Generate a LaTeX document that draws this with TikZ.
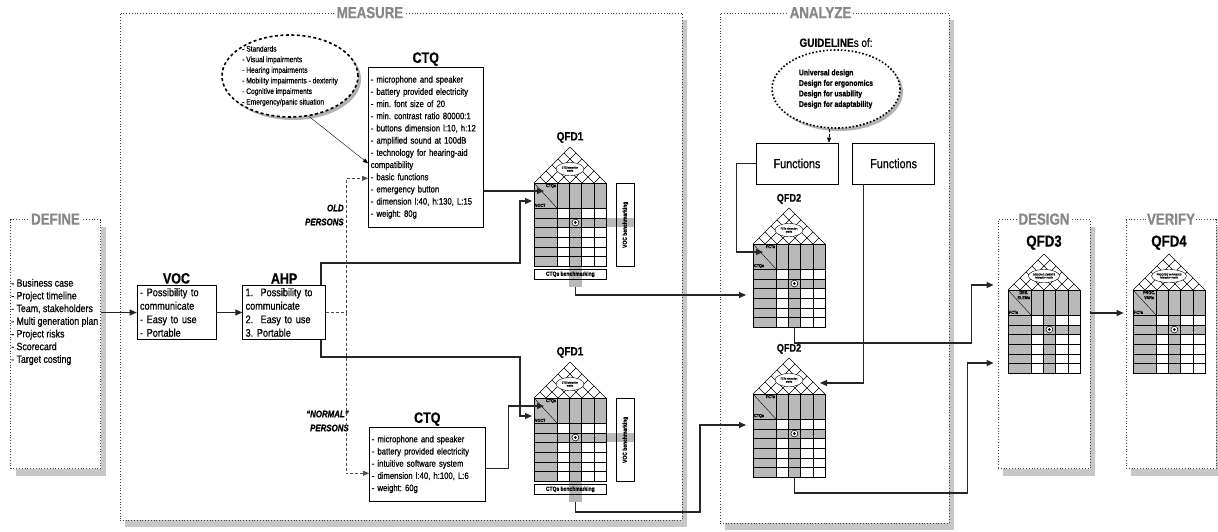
\documentclass[tikz,border=0pt]{standalone}
\usepackage{fontspec}
\setmainfont{Liberation Sans}[FakeStretch=0.83, FakeBold=0.6]
\usetikzlibrary{arrows.meta,positioning,shapes.geometric,shadows,calc}
\definecolor{clrShade}{RGB}{185,185,185}
\definecolor{clrTitle}{RGB}{135,135,135}
\frenchspacing

% house of quality: name, top-left of matrix, roof text, top label, bottom label, title
\newcommand{\qfdhouse}[6]{%
  \begin{scope}[shift={#2}]
    \fill[clrShade] (0,0) rectangle (23,83);
    \fill[clrShade] (23,0) rectangle (72,25);
    \fill[clrShade] (35.25,25) rectangle (47.5,83);
    \fill[clrShade] (23,34.7) rectangle (72,44.3);
    \foreach \cx in {35.25,47.5,59.75}
      \draw[gridln] (\cx,0) -- (\cx,83);
    \foreach \ry in {34.7,44.3,54,63.7,73.3}
      \draw[gridln] (0,\ry) -- (72,\ry);
    \draw[gridln] (0,0) -- (23,25);
    \draw[line width=0.8pt] (23,0) -- (23,83) (0,25) -- (72,25);
    \node[hdrlbl, anchor=north east] at (23,0) {#4};
    \node[hdrlbl, anchor=south west] at (0,25) {#5};
    \draw[fill=white, line width=0.5pt] (41.4,39.5) circle (3.4);
    \fill (41.4,39.5) circle (1.5);
    % roof
    \begin{scope}
      \clip (0,0) -- (36,-36) -- (72,0) -- cycle;
      \foreach \i in {1,...,5}
        \draw[gridln] (\i*12,0) -- ++(40,-40) (\i*12,0) -- ++(-40,-40);
    \end{scope}
    \draw[gridln] (0,0) -- (36,-36) -- (72,0);
    \node[roofell] (#1-roof) at (36,-14) {#3};
    \node[qfdbox, anchor=north west] (#1) at (0,0) {};
    \node[qfdtitle, anchor=south] (#1-title) at (36,-39) {#6};
    \coordinate (#1-hdr) at (10,8);
    \coordinate (#1-in) at (-2,18);
    \coordinate (#1-bot) at (41.4,83);
    \coordinate (#1-rin) at (67,-11);
  \end{scope}}

% benchmarking strips of QFD1
\newcommand{\qfdbench}[2]{%
  \begin{scope}[shift={#2}]
    \fill[clrShade] (72,34.7) rectangle (100,44.3);
    \fill[clrShade] (35.25,83) rectangle (47.5,104);
    \node[benchbox, minimum width=18pt, minimum height=83pt, anchor=north west]
      (#1-vocb) at (82,0) {\rotatebox{90}{VOC benchmarking}};
    \node[benchbox, minimum width=72pt, minimum height=10pt, anchor=north west]
      (#1-ctqb) at (0,86) {CTQs benchmarking};
    \coordinate (#1-out) at (41.4,104);
  \end{scope}}

\begin{document}
\begin{tikzpicture}[x=1pt, y=-1pt,
  phase/.style={draw=black!75, dash pattern=on 0.8pt off 2pt, line width=0.8pt,
                fill=white, inner sep=0pt,
                drop shadow={shadow xshift=5pt, shadow yshift=-7pt, fill=black!22, opacity=1}},
  phasettl/.style={font=\fontsize{16}{16}\selectfont\bfseries, text=clrTitle,
                   fill=white, inner sep=1.5pt},
  arr/.style={-{Triangle[length=7pt,width=6pt]}, line width=1.2pt, black!85},
  dasharr/.style={-{Triangle[length=6pt,width=5pt]}, densely dashed, line width=0.6pt, black!70},
  dashln/.style={densely dashed, line width=0.6pt, black!70},
  thinarr/.style={-{Triangle[length=5pt,width=4pt]}, line width=0.4pt},
  gridln/.style={line width=0.4pt},
  hdrlbl/.style={font=\fontsize{4.5}{5}\selectfont\bfseries, inner sep=0.8pt, align=center},
  roofell/.style={ellipse, draw, fill=white, line width=0.4pt, minimum width=28pt,
                  minimum height=13pt, inner sep=0pt, align=center,
                  font=\fontsize{2.8}{3}\selectfont},
  qfdbox/.style={draw, line width=0.9pt, minimum width=72pt, minimum height=83pt, inner sep=0pt},
  qfdtitle/.style={font=\fontsize{12}{12}\selectfont\bfseries, inner sep=1pt},
  benchbox/.style={draw, line width=0.6pt, inner sep=0pt, font=\fontsize{6}{6}\selectfont\bfseries},
  lbox/.style={draw, line width=0.6pt, align=left, inner sep=3pt,
               font=\fontsize{11}{13.5}\selectfont},
  ctqbox/.style={draw, line width=0.6pt, align=left, inner sep=2.5pt,
                 font=\fontsize{9.3}{12.2}\selectfont},
  ttl/.style={font=\fontsize{15}{15}\selectfont\bfseries, inner sep=1pt},
  listtxt/.style={align=left, inner sep=0pt, font=\fontsize{10.6}{12.7}\selectfont},
  ellnote/.style={ellipse, draw, fill=white, line width=1.6pt, dash pattern=on 3pt off 2.5pt,
                  align=left, inner xsep=-9pt, inner ysep=-4pt,
                  font=\fontsize{8}{10.6}\selectfont,
                  drop shadow={shadow xshift=3pt, shadow yshift=-3pt, fill=black!30, opacity=1}},
  guidenote/.style={ellipse, draw, fill=white, line width=1.6pt, dotted,
                    align=left, inner sep=0pt, font=\fontsize{8.2}{10.5}\selectfont\bfseries,
                    drop shadow={shadow xshift=3pt, shadow yshift=-3pt, fill=black!30, opacity=1}},
  funbox/.style={draw, line width=0.6pt, minimum width=82pt, minimum height=41pt,
                 font=\fontsize{13}{13}\selectfont},
  persontxt/.style={align=right, inner sep=0pt, font=\fontsize{9.5}{14}\selectfont\bfseries\itshape}
]
\useasboundingbox (0,0) rectangle (1218,531);
\fill[white] (0,0) rectangle (1218,531);

% phase frames
\node[phase, minimum width=90pt, minimum height=249pt]  (define)  at (55.5,344) {};
\node[phase, minimum width=562pt, minimum height=507pt] (measure) at (401,266.5) {};
\node[phase, minimum width=229pt, minimum height=510pt] (analyze) at (834.5,268) {};
\node[phase, minimum width=92pt, minimum height=249pt]  (design)  at (1044,344) {};
\node[phase, minimum width=90pt, minimum height=249pt]  (verify)  at (1171,344) {};

\node[phasettl] (defttl) at (define.north) {DEFINE};
\node[phasettl] (meattl) at ([xshift=-31pt]measure.north) {MEASURE};
\node[phasettl] (anattl) at ([xshift=-14pt]analyze.north) {ANALYZE};
\node[phasettl] (desttl) at (design.north) {DESIGN};
\node[phasettl] (verttl) at (verify.north) {VERIFY};

% define
\node[listtxt, anchor=west] (deflist) at (11,322)
  {- Business case\\- Project timeline\\- Team, stakeholders\\- Multi generation plan\\
   - Project risks\\- Scorecard\\- Target costing};

% measure
\node[lbox, text width=73pt] (voc) at (176.5,312.5)
  {- Possibility to\\communicate\\- Easy to use\\- Portable};
\node[ttl, above=0pt of voc] (vocttl) {VOC};
\node[lbox, text width=77pt, right=26pt of voc] (ahp)
  {1.\ \ Possibility to\\communicate\\2.\ \ Easy to use\\3. Portable};
\node[ttl, above=0pt of ahp] (ahpttl) {AHP};

\node[ellnote, minimum width=136pt, minimum height=82pt] (stdell) at (290,76)
  {- Standards\\- Visual impairments\\- Hearing impairments\\
   - Mobility impairments - dexterity\\- Cognitive impairments\\- Emergency/panic situation};

\node[ctqbox, text width=110pt, minimum height=160pt, anchor=north west] (ctqtop) at (368,67)
  {- microphone and speaker\\- battery provided electricity\\- min. font size of 20\\
   - min. contrast ratio 80000:1\\- buttons dimension l:10, h:12\\- amplified sound at 100dB\\
   - technology for hearing-aid\\compatibility\\- basic functions\\- emergency button\\
   - dimension l:40, h:130, L:15\\- weight: 80g};
\node[ttl, above=0pt of ctqtop] (ctqtopttl) {CTQ};

\node[ctqbox, text width=111pt, minimum height=74pt, anchor=north west] (ctqbot) at (369,427)
  {- microphone and speaker\\- battery provided electricity\\- intuitive software system\\
   - dimension l:40, h:100, L:6\\- weight: 60g};
\node[ttl, above=0pt of ctqbot] (ctqbotttl) {CTQ};

\coordinate (split) at ([xshift=20pt]ahp.east);
\node[persontxt, anchor=east] (oldlbl) at ([xshift=-2pt,yshift=97.5pt]split) {OLD\\PERSONS};
\node[persontxt, anchor=east] (normlbl) at ([xshift=3pt,yshift=-108.5pt]split) {“NORMAL”\\PERSONS};

\qfdbench{q1a}{(534,183)}
\qfdhouse{q1a}{(534,183)}{CTQ interaction\\matrix}{CTQs}{VOCT}{QFD1}
\qfdbench{q1b}{(534,398)}
\qfdhouse{q1b}{(534,398)}{CTQ interaction\\matrix}{CTQs}{VOCT}{QFD1}

% analyze
\node[guidenote, minimum width=128pt, minimum height=78pt] (guide) at (836,89)
  {Universal design\\Design for ergonomics\\Design for usability\\Design for adaptability};
\node[font=\fontsize{12}{12}\selectfont, inner sep=1pt, above=1pt of guide] (guidettl)
  {\textbf{GUIDELINE}s of:};
\node[funbox] (fun1) at (797,163.5) {Functions};
\node[funbox, right=14pt of fun1] (fun2) {Functions};

\qfdhouse{q2a}{(753,244)}{FCTs interaction\\matrix}{FCTs}{CTQs}{\fontsize{11}{11}\selectfont QFD2}
\qfdhouse{q2b}{(753,394)}{FCTs interaction\\matrix}{FCTs}{CTQs}{\fontsize{11}{11}\selectfont QFD2}

% design, verify
\qfdhouse{q3}{(1008,290)}{DESIGN ELEMENTS\\interaction matrix}{DES.\\ELEMs}{FCTs}
  {\fontsize{16}{16}\selectfont QFD3}
\qfdhouse{q4}{(1133,290)}{PROCESS VARIABLES\\interaction matrix}{PROC.\\VARs}{FCTs}
  {\fontsize{16}{16}\selectfont QFD4}

% connectors
\draw[arr] (define.east |- voc.west) -- (voc.west);
\draw[arr] (voc) -- (ahp);
\draw[arr] ([xshift=-5pt]ahp.north east) -- ++(0,-22) -| ([xshift=-12pt]q1a-in) -- (q1a-in);
\draw[arr] ([xshift=-5pt]ahp.south east) -- ++(0,17) -| ([xshift=-12pt]q1b-in) -- (q1b-in);
\draw[dashln] (ahp.east) -- (split);
\draw[dasharr] (split) |- ([yshift=-31pt]ctqtop.west);
\draw[dasharr] (split) |- ([yshift=-9pt]ctqbot.west);
\draw[thinarr] (stdell.-65) -- ([yshift=-16pt]ctqtop.west);

\draw[arr] (ctqtop.east |- q1a-hdr) -- (q1a-hdr);
\draw[arr] ([yshift=-4pt]ctqbot.east) -- ++(23,0) |- (q1b-hdr);

\draw[arr] (q1a-out) |- ([xshift=-7pt,yshift=-51pt]q2a.north west);
\draw[arr] (q1b-out) -- ++(0,10) -- ++(124.6,0) |- ([xshift=-7pt,yshift=-31pt]q2b.north west);

\draw[thinarr, densely dashed] (guide.260) -- (guide.260 |- fun1.north);
\draw[arr] (fun1.west) -- ++(-19,0) |- (q2a-hdr);
\draw[arr] ([xshift=11pt]fun2.south west) |- (q2b-rin);

\draw[arr, shorten >=4pt] (q2a-bot) -- ++(0,16) -| ([xshift=-26pt,yshift=59pt]design.west)
  -- ([yshift=59pt]design.west);
\draw[arr, shorten >=4pt] (q2b-bot) -- ++(0,16) -| ([xshift=-30pt,yshift=-19pt]design.west)
  -- ([yshift=-19pt]design.west);
\draw[arr, shorten >=2pt] ([yshift=31pt]design.east) -- ([yshift=31pt]verify.west);
\end{tikzpicture}
\end{document}
